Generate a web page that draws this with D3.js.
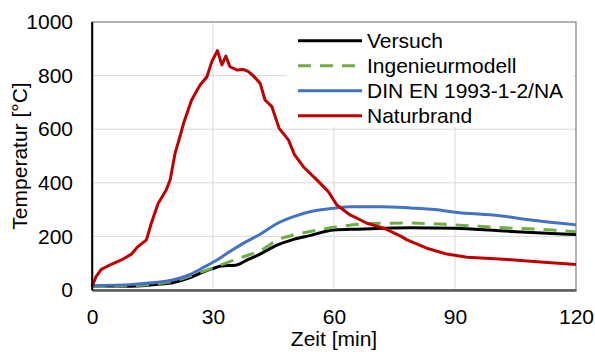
<!DOCTYPE html>
<html>
<head>
<meta charset="utf-8">
<script src="https://cdn.jsdelivr.net/npm/d3@7"></script>
<style>
  body { margin: 0; background: #fff; }
  svg { font-family: "Liberation Sans", Arial, sans-serif; }
</style>
</head>
<body>
<div id="chart"></div>
<script>
// time [min] and temperature [°C]
const versuchT = [0, 10, 17, 20, 24, 28, 30, 32, 35.5, 38.5, 42, 46, 50, 54, 60, 66, 72, 79, 90, 101, 114, 120];
const versuchV = [15, 14, 22, 27, 44, 70, 80, 90, 92, 112, 137, 168, 189, 203, 224, 227, 230, 232, 230, 221, 211, 207];

const ingT = [0, 10, 17, 20, 25, 29, 33.5, 37.5, 42, 46, 50, 54, 60, 68, 78, 90, 101, 114, 120];
const ingV = [15, 16, 25, 32, 56, 77, 102, 124, 149, 187, 205, 218, 234, 247, 250, 243, 233, 224, 217];

const dinT = [0, 10, 20, 24, 28, 31, 33.5, 37.5, 42, 46, 50, 54, 60, 64, 72, 79, 85, 90, 101, 110, 120];
const dinV = [16, 21, 37, 56, 87, 112, 137, 174, 211, 249, 274, 292, 305, 311, 311, 306, 300, 290, 277, 259, 243];

const naturT = [0, 1, 2.3, 4.8, 7.3, 9.8, 11.4, 13.5, 14.7, 16.4, 18.4, 19.4, 20.6, 21.8, 22.7, 24.7, 26.8, 28.5, 29.7, 31.1,
  32.2, 33.2, 34.2, 35.9, 37.5, 38.8, 40, 41.7, 42.9, 44.6, 46.4, 48.7, 50.2, 52.4, 55.8, 58.6, 60.7, 64, 68.2, 72.5,
  76.4, 78.1, 83, 88, 93, 101, 109.5, 120];
const naturV = [12, 50, 77, 96, 112, 134, 162, 187, 249, 323, 373, 412, 510, 572, 622, 709, 765, 796, 852, 893,
  840, 873, 833, 821, 823, 815, 799, 771, 709, 684, 603, 560, 505, 460, 410, 367, 317, 280, 249, 230,
  202, 187, 156, 134, 122, 116, 106, 95];

const series = [
  { name: 'Versuch', t: versuchT, v: versuchV, color: '#000000', dash: null },
  { name: 'Ingenieurmodell', t: ingT, v: ingV, color: '#70AD47', dash: '13,9' },
  { name: 'DIN EN 1993-1-2/NA', t: dinT, v: dinV, color: '#4472C4', dash: null },
  { name: 'Naturbrand', t: naturT, v: naturV, color: '#C00000', dash: null }
];
const xTicks = [0, 30, 60, 90, 120];
const yTicks = [0, 200, 400, 600, 800, 1000];

const W = 595, H = 352;
const margin = { top: 22, right: 19, bottom: 62, left: 92 };
const width = W - margin.left - margin.right;
const height = H - margin.top - margin.bottom;

const svg = d3.select('#chart').append('svg')
  .attr('width', W)
  .attr('height', H);

const g = svg.append('g')
  .attr('transform', `translate(${margin.left},${margin.top})`);

const x = d3.scaleLinear().domain([0, 120]).range([0, width]);
const y = d3.scaleLinear().domain([0, 1000]).range([height, 0]);

// gridlines
g.append('g').selectAll('line').data(yTicks.slice(1, -1)).enter().append('line')
  .attr('x1', 0).attr('x2', width)
  .attr('y1', d => y(d)).attr('y2', d => y(d))
  .attr('stroke', '#d9d9d9').attr('stroke-width', 1);
g.append('g').selectAll('line').data(xTicks.slice(1, -1)).enter().append('line')
  .attr('y1', 0).attr('y2', height)
  .attr('x1', d => x(d)).attr('x2', d => x(d))
  .attr('stroke', '#d9d9d9').attr('stroke-width', 1);

// plot frame (top / right)
g.append('rect')
  .attr('x', 0).attr('y', 0).attr('width', width).attr('height', height)
  .attr('fill', 'none').attr('stroke', '#7f7f7f').attr('stroke-width', 1.2);

// legend background hides the gridlines behind it
g.append('rect')
  .attr('x', 195).attr('y', 1).attr('width', width - 198).attr('height', 104)
  .attr('fill', '#fff');

// axes
const xAxis = g.append('g')
  .attr('transform', `translate(0,${height})`)
  .call(d3.axisBottom(x).tickValues(xTicks).tickSize(0).tickPadding(19));
xAxis.select('.domain').attr('stroke', '#595959').attr('stroke-width', 2.5);

const yAxis = g.append('g')
  .call(d3.axisLeft(y).tickValues(yTicks).tickFormat(d3.format('d')).tickSize(0).tickPadding(19));
yAxis.select('.domain').attr('stroke', '#000').attr('stroke-width', 1.5);

g.selectAll('.tick text').attr('font-size', 21).attr('fill', '#000')
  .attr('font-family', '"Liberation Sans", Arial, sans-serif');

// lines
const line = d3.line()
  .x(d => x(d[0]))
  .y(d => y(d[1]));

series.forEach(s => {
  const pts = s.t.map((t, i) => [t, s.v[i]]);
  g.append('path')
    .datum(pts)
    .attr('fill', 'none')
    .attr('stroke', s.color)
    .attr('stroke-width', 3)
    .attr('stroke-linejoin', 'round')
    .attr('stroke-dasharray', s.dash)
    .attr('d', line.curve(s.name === 'Naturbrand' ? d3.curveLinear : d3.curveMonotoneX));
});

// redraw left axis line on top of curves
g.append('line').attr('x1', 0).attr('x2', 0).attr('y1', 0).attr('y2', height)
  .attr('stroke', '#000').attr('stroke-width', 1.5);

// legend
const legend = g.append('g').attr('transform', 'translate(206,18.7)');
series.forEach((s, i) => {
  const row = legend.append('g').attr('transform', `translate(0,${i * 25})`);
  row.append('line')
    .attr('x1', 0).attr('x2', 64)
    .attr('stroke', s.color).attr('stroke-width', 3)
    .attr('stroke-dasharray', s.dash);
  row.append('text')
    .attr('x', 69).attr('dy', '0.36em')
    .attr('font-size', 21)
    .text(s.name);
});

// axis titles
svg.append('text')
  .attr('x', margin.left + width / 2).attr('y', 346)
  .attr('text-anchor', 'middle').attr('font-size', 21)
  .text('Zeit [min]');

svg.append('text')
  .attr('transform', `translate(27,${margin.top + height / 2}) rotate(-90)`)
  .attr('text-anchor', 'middle').attr('font-size', 21)
  .text('Temperatur [°C]');
</script>
</body>
</html>
